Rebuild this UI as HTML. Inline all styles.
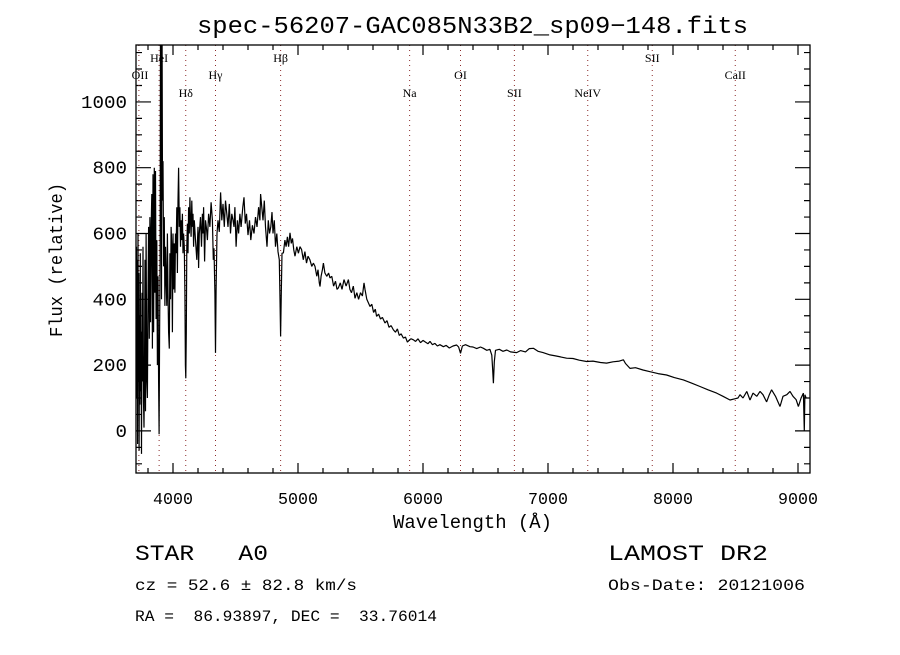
<!DOCTYPE html>
<html><head><meta charset="utf-8"><style>
body{margin:0;background:#fff}
svg text{font-family:"Liberation Mono",monospace;fill:#000;white-space:pre}
svg text.ser{font-family:"Liberation Serif",serif}
</style></head><body>
<svg id="chart" width="900" height="650" viewBox="0 0 900 650" xmlns="http://www.w3.org/2000/svg">
<rect width="900" height="650" fill="#fff"/>
<text x="197" y="33" font-size="24" textLength="551" lengthAdjust="spacingAndGlyphs">spec-56207-GAC085N33B2_sp09−148.fits</text>
<text transform="translate(62,337) rotate(-90)" font-size="18" textLength="154" lengthAdjust="spacingAndGlyphs">Flux (relative)</text>
<text x="393" y="528" font-size="19" textLength="159" lengthAdjust="spacingAndGlyphs">Wavelength (Å)</text>
<g id="ticks"></g>
<g id="lines"></g>
<defs><clipPath id="clip"><rect x="136" y="45" width="674" height="428"/></clipPath></defs>
<path id="spec" clip-path="url(#clip)" fill="none" stroke="#000" stroke-width="1.2" stroke-linejoin="bevel"/>
<rect x="136" y="45" width="674" height="428" fill="none" stroke="#000" stroke-width="1.3"/>
<text x="135" y="560" font-size="22" textLength="133" lengthAdjust="spacingAndGlyphs">STAR   A0</text>
<text x="135" y="590" font-size="16" textLength="222" lengthAdjust="spacingAndGlyphs">cz = 52.6 ± 82.8 km/s</text>
<text x="135" y="621" font-size="16" textLength="302" lengthAdjust="spacingAndGlyphs">RA =  86.93897, DEC =  33.76014</text>
<text x="608" y="560" font-size="22" textLength="160" lengthAdjust="spacingAndGlyphs">LAMOST DR2</text>
<text x="608" y="590" font-size="16" textLength="197" lengthAdjust="spacingAndGlyphs">Obs-Date: 20121006</text>
</svg>
<script>
const wavelengths=[3705,3708,3711,3714,3717,3720,3723,3726,3729,3732,3735,3738,3741,3745,3748,3752,3756,3760,3764,3768,3772,3776,3780,3785,3790,3795,3800,3805,3810,3815,3820,3825,3830,3835,3840,3845,3850,3855,3860,3865,3870,3875,3880,3885,3889,3893,3897,3900,3904,3908,3912,3916,3920,3925,3930,3935,3940,3945,3950,3955,3960,3965,3970,3975,3980,3985,3990,3995,4000,
4005,4010,4015,4020,4025,4030,4035,4040,4045,4050,4055,4060,4065,4070,4075,4080,4085,4090,4095,4099,4102,4106,4110,4115,4120,4125,4130,4135,4140,4145,4150,4155,4160,4165,4170,4180,4190,4200,4205,4210,4220,4228,4235,4240,4245,4253,4260,4268,4275,4285,4295,4305,4315,4322,4328,4335,4340,4345,4352,4360,4370,4381,4390,4400,4410,4420,4430,4440,4450,4460,4470,4480,4488,4495,4505,4515,4525,4535,4545,4558,4568,4578,4588,4600,4612,4622,4635,4648,4660,4672,4685,4695,4701,4710,4720,4730,4740,4752,4762,4772,4782,4792,4800,4810,4820,4830,4840,4850,4856,4861,4866,4872,4883,4895,4905,4915,4925,4936,4946,4956,4966,4976,4990,5003,5016,5029,5042,5055,5068,5080,5095,5110,5123,5136,5150,5160,5170,5176,5185,5195,5203,5215,5230,5245,5256,5270,5285,5300,5312,5323,5338,5352,5368,5385,5403,5415,5428,5442,5456,5470,5485,5500,5515,5528,5536,5550,5562,5576,5590,5605,5618,5629,5645,5660,5675,5696,5712,5728,5745,5763,5780,5795,5810,5825,5843,5860,5875,5893,5905,5923,5940,5960,5980,6000,6020,6040,6056,6075,6095,6115,6135,6163,6185,6210,6240,6269,6285,6300,6315,6340,6376,6400,6430,6460,6483,6510,6535,6550,6557,6563,6570,6580,6610,6640,6670,6700,6749,6780,6820,6850,6883,6920,6960,7016,7060,7100,7149,7200,7250,7309,7360,7420,7469,7520,7570,7603,7620,7656,7700,7760,7816,7880,7949,8010,8083,8150,8216,8280,8349,8400,8456,8498,8520,8536,8560,8590,8616,8640,8670,8696,8720,8749,8770,8789,8820,8856,8880,8910,8936,8960,8985,9003,9025,9043,9050,9055,9065];
const fluxValues=[200,560,100,520,-40,600,150,480,-60,350,80,540,120,300,-70,420,150,560,90,10,180,520,60,600,150,100,400,620,280,650,330,610,720,250,780,300,800,420,790,340,580,200,470,150,-10,300,520,1300,1200,400,1300,700,820,500,650,380,560,470,380,600,420,300,250,540,400,620,560,300,600,
430,570,420,600,540,680,480,700,800,620,680,560,640,580,660,540,600,560,420,200,160,300,560,630,540,680,600,710,640,590,700,620,660,560,640,580,520,620,495,600,650,560,660,600,680,515,640,615,580,660,620,695,640,520,555,420,237,430,600,640,605,725,640,690,620,700,660,620,690,600,660,640,620,680,560,640,600,660,620,680,710,630,660,595,640,580,625,600,650,620,680,640,720,680,640,700,620,560,640,600,620,665,600,640,560,600,545,520,400,287,420,540,541,580,560,590,560,602,570,585,550,531,560,540,560,551,520,545,510,531,520,500,510,500,470,490,450,439,470,490,510,480,470,480,465,470,440,455,430,435,450,430,460,440,460,430,420,440,403,420,400,420,410,450,430,400,390,378,385,360,370,348,355,340,345,328,335,315,320,307,300,310,290,295,282,285,270,277,280,277,272,280,268,275,270,265,272,262,266,258,262,256,260,252,258,261,255,236,258,262,256,255,250,255,251,245,248,230,190,145,210,245,248,242,246,240,238,244,240,250,251,242,238,231,228,225,221,220,215,211,212,208,206,210,212,216,205,190,192,185,180,174,170,162,155,145,135,125,115,105,94,98,100,110,100,120,94,115,105,120,110,88,110,125,105,74,105,110,120,105,95,74,100,115,-2,110,100];
const xTickValues=[4000,5000,6000,7000,8000,9000];
const yTickValues=[0,200,400,600,800,1000];
const lineNames=["OII","HeI","Hδ","Hγ","Hβ","Na","OI","SII","NeIV","SII","CaII"];
const lineWaves=[3727,3889,4102,4340,4861,5893,6300,6731,7318,7834,8498];
const lineRows=[1,0,2,1,0,2,1,2,2,0,1];

const X0=136,X1=810,Y0=45,Y1=473,XMIN=3704,XMAX=9096,YMIN=-128,YMAX=1173;
const sx=v=>X0+(v-XMIN)/(XMAX-XMIN)*(X1-X0);
const sy=v=>Y1-(v-YMIN)/(YMAX-YMIN)*(Y1-Y0);
const NS="http://www.w3.org/2000/svg";
function mk(tag,attrs,parent){const e=document.createElementNS(NS,tag);for(const k in attrs)e.setAttribute(k,attrs[k]);parent.appendChild(e);return e;}
const tg=document.getElementById('ticks');
let d="";
for(let w=3800;w<=9000;w+=200){const x=sx(w);const L=(w%1000===0)?10:5;d+=`M${x} ${Y1}v${-L}M${x} ${Y0}v${L}`;}
for(let f=-100;f<=1150;f+=50){const y=sy(f);const L=(f%200===0)?15:6;d+=`M${X0} ${y}h${L}M${X1} ${y}h${-L}`;}
const tp=mk('path',{d:d,stroke:'#000','stroke-width':1.2,fill:'none'},tg);


xTickValues.forEach(v=>{const s=String(v);const w=s.length*10;const t=mk('text',{x:sx(v)-w/2,y:504,'font-size':17,textLength:w,lengthAdjust:'spacingAndGlyphs'},tg);t.textContent=s;

});
yTickValues.forEach(v=>{const s=String(v);const w=s.length*11.5;const t=mk('text',{x:127-w,y:sy(v)+6,'font-size':18,textLength:w,lengthAdjust:'spacingAndGlyphs'},tg);t.textContent=s;

});
const lg=document.getElementById('lines');
const rowY=[62,79,97];
lineWaves.forEach((w,i)=>{const x=sx(w);
const l=mk('line',{x1:x,x2:x,y1:Y0,y2:Y1,stroke:'#8b2a2a','stroke-width':1,'stroke-dasharray':'1 4'},lg);


const t=mk('text',{x:Math.max(x,140),y:rowY[lineRows[i]],'font-size':12,'text-anchor':'middle','class':'ser'},lg);t.textContent=lineNames[i];

});
let p="";wavelengths.forEach((w,i)=>{p+=(i?"L":"M")+sx(w).toFixed(1)+" "+sy(fluxValues[i]).toFixed(1);});
document.getElementById('spec').setAttribute('d',p);
</script>
</body></html>
